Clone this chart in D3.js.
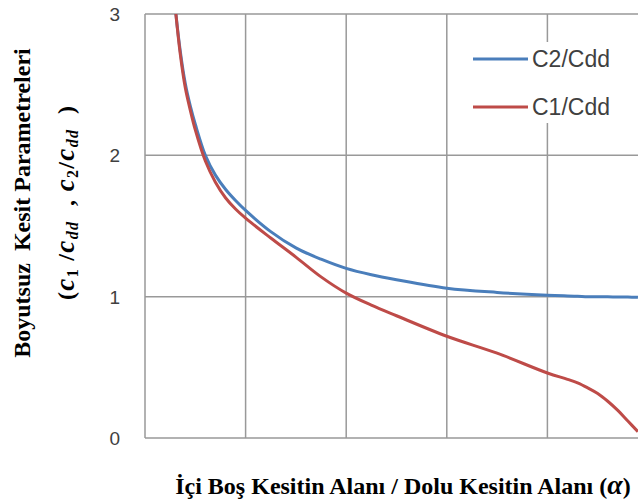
<!DOCTYPE html>
<html>
<head>
<meta charset="utf-8">
<script src="https://cdn.jsdelivr.net/npm/d3@7"></script>
<style>
  body { margin: 0; background: #fff; }
  .tick-label { font-family: "Liberation Sans", Arial, sans-serif; font-size: 19px; fill: #404040; }
  .legend-label { font-family: "Liberation Sans", Arial, sans-serif; font-size: 23px; fill: #404040; }
  .title { font-family: "Liberation Serif", "Times New Roman", serif; font-size: 24px; font-weight: bold; fill: #000; }
</style>
</head>
<body>
<div class="chart"></div>
<script>
// Chart data
var alpha = [0.055, 0.06, 0.07, 0.08, 0.09, 0.10, 0.12, 0.14, 0.16, 0.18, 0.20, 0.25, 0.30, 0.35, 0.40, 0.45, 0.50, 0.60, 0.70, 0.80, 0.84, 0.86, 0.88, 0.90, 0.92, 0.94, 0.96, 0.98];
var c2 = [3.25, 3.05, 2.74, 2.51, 2.35, 2.22, 2.00, 1.86, 1.76, 1.68, 1.61, 1.46, 1.345, 1.265, 1.20, 1.155, 1.12, 1.06, 1.03, 1.01, 1.005, 1.003, 1.0, 1.0, 0.999, 0.998, 0.997, 0.996];
var c1 = [3.25, 3.05, 2.72, 2.48, 2.32, 2.18, 1.96, 1.81, 1.70, 1.62, 1.555, 1.415, 1.28, 1.14, 1.025, 0.94, 0.865, 0.72, 0.60, 0.46, 0.415, 0.39, 0.355, 0.315, 0.26, 0.195, 0.12, 0.045];
var seriesNames = ["C2/Cdd", "C1/Cdd"];
var seriesColors = ["#4A7EBB", "#BE4B48"];
var yTicks = [0, 1, 2, 3];
var xGrid = [0, 0.2, 0.4, 0.6, 0.8, 1.0];

// SVG area
var svgWidth = 638;
var svgHeight = 500;

var plot = { left: 145, right: 648, top: 14, bottom: 438 };

var svg = d3.select(".chart")
  .append("svg")
  .attr("width", svgWidth)
  .attr("height", svgHeight);

// Scales
var xScale = d3.scaleLinear()
  .domain([0, 1])
  .range([plot.left, plot.right]);

var yScale = d3.scaleLinear()
  .domain([0, 3])
  .range([plot.bottom, plot.top]);

// Gridlines
svg.append("g")
  .selectAll("line")
  .data(yTicks)
  .enter()
  .append("line")
  .attr("x1", plot.left)
  .attr("x2", plot.right)
  .attr("y1", d => yScale(d))
  .attr("y2", d => yScale(d))
  .attr("stroke", "#999")
  .attr("stroke-width", 1.5);

svg.append("g")
  .selectAll("line")
  .data(xGrid)
  .enter()
  .append("line")
  .attr("x1", d => xScale(d))
  .attr("x2", d => xScale(d))
  .attr("y1", plot.top)
  .attr("y2", plot.bottom)
  .attr("stroke", "#999")
  .attr("stroke-width", 1.5);

// Y tick labels
svg.append("g")
  .selectAll("text")
  .data(yTicks)
  .enter()
  .append("text")
  .attr("class", "tick-label")
  .attr("x", 120)
  .attr("y", d => yScale(d))
  .attr("dy", "0.36em")
  .attr("text-anchor", "end")
  .text(d => d);

// Clip lines to plot area
svg.append("clipPath")
  .attr("id", "plot-clip")
  .append("rect")
  .attr("x", plot.left)
  .attr("y", plot.top)
  .attr("width", plot.right - plot.left)
  .attr("height", plot.bottom - plot.top);

var line = d3.line()
  .x(d => xScale(d[0]))
  .y(d => yScale(d[1]))
  .curve(d3.curveCatmullRom.alpha(0.5));

var series = [c2, c1].map(function(vals, i) {
  return { name: seriesNames[i], color: seriesColors[i], points: alpha.map((a, j) => [a, vals[j]]) };
});

svg.append("g")
  .attr("clip-path", "url(#plot-clip)")
  .selectAll("path")
  .data(series)
  .enter()
  .append("path")
  .attr("d", d => line(d.points))
  .attr("fill", "none")
  .attr("stroke", d => d.color)
  .attr("stroke-width", 3);

// Legend
var legend = svg.append("g");
legend.append("rect")
  .attr("x", 462)
  .attr("y", 42)
  .attr("width", 170)
  .attr("height", 81)
  .attr("fill", "#fff");

var legendItem = legend.selectAll(".legend-item")
  .data(series)
  .enter()
  .append("g")
  .attr("transform", (d, i) => `translate(473, ${59 + i * 48})`);

legendItem.append("line")
  .attr("x1", 0)
  .attr("x2", 55)
  .attr("stroke", d => d.color)
  .attr("stroke-width", 3);

legendItem.append("text")
  .attr("class", "legend-label")
  .attr("x", 59)
  .attr("dy", "0.36em")
  .text(d => d.name);

// X axis title
var xTitle = svg.append("text")
  .attr("class", "title")
  .attr("x", 403)
  .attr("y", 494)
  .attr("text-anchor", "middle");
xTitle.append("tspan").text("İçi Boş Kesitin Alanı / Dolu Kesitin Alanı (");
xTitle.append("tspan").attr("font-style", "italic").attr("font-size", "28px").text("α");
xTitle.append("tspan").text(")");

// Y axis title, two lines
svg.append("text")
  .attr("class", "title")
  .attr("transform", "translate(30, 203) rotate(-90)")
  .attr("text-anchor", "middle")
  .attr("xml:space", "preserve")
  .text("Boyutsuz  Kesit Parametreleri");

var yTitle2 = svg.append("text")
  .attr("class", "title")
  .attr("transform", "translate(74, 203) rotate(-90)")
  .attr("text-anchor", "middle")
  .attr("xml:space", "preserve")
  .attr("font-style", "italic")
  .attr("textLength", 194)
  .attr("lengthAdjust", "spacing");
yTitle2.append("tspan").attr("font-style", "normal").text("(");
yTitle2.append("tspan").attr("font-size", "27px").text("c");
yTitle2.append("tspan").attr("font-size", "16px").attr("dy", 4).attr("font-style", "normal").text("1");
yTitle2.append("tspan").attr("dy", -4).attr("font-style", "normal").text(" /");
yTitle2.append("tspan").attr("font-size", "27px").text("c");
yTitle2.append("tspan").attr("font-size", "16px").attr("dy", 4).text("dd");
yTitle2.append("tspan").attr("dy", -4).attr("font-style", "normal").text("  , ");
yTitle2.append("tspan").attr("font-size", "27px").text("c");
yTitle2.append("tspan").attr("font-size", "16px").attr("dy", 4).attr("font-style", "normal").text("2");
yTitle2.append("tspan").attr("dy", -4).attr("font-style", "normal").text("/");
yTitle2.append("tspan").attr("font-size", "27px").text("c");
yTitle2.append("tspan").attr("font-size", "16px").attr("dy", 4).text("dd");
yTitle2.append("tspan").attr("dy", -4).attr("font-style", "normal").text("  )");
</script>
</body>
</html>
